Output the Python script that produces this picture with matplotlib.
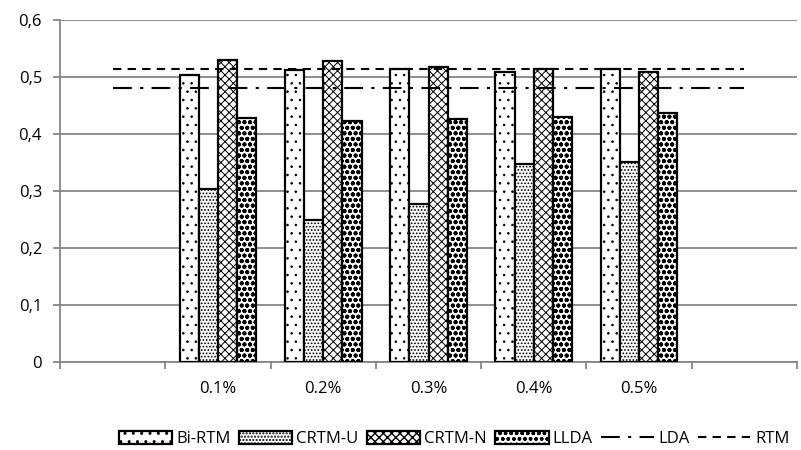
import matplotlib.pyplot as plt
import numpy as np

plt.rcParams['font.family'] = ['Open Sans', 'DejaVu Sans']
plt.rcParams['hatch.color'] = 'black'

# 数据
categories = ['', '0.1%', '0.2%', '0.3%', '0.4%', '0.5%', '']
bi_rtm = [np.nan, 0.504, 0.512, 0.513, 0.508, 0.514, np.nan]
crtm_u = [np.nan, 0.303, 0.249, 0.277, 0.347, 0.351, np.nan]
crtm_n = [np.nan, 0.529, 0.528, 0.518, 0.513, 0.508, np.nan]
llda = [np.nan, 0.427, 0.423, 0.426, 0.430, 0.436, np.nan]
lda = [0.480] * 7
rtm = [0.514] * 7

bar_series = [('Bi-RTM', bi_rtm, '..', 0.6), ('CRTM-U', crtm_u, '.....', 0.8),
              ('CRTM-N', crtm_n, 'xxxx', 0.7), ('LLDA', llda, 'ooo', 1.3)]

fig = plt.figure(figsize=(8.01, 4.5), dpi=100)
ax = fig.add_axes([0.075, 0.196, 0.920, 0.760])

x = np.arange(len(categories))
w = 0.182
handles = []
for i, (name, vals, hatch, hlw) in enumerate(bar_series):
    plt.rcParams['hatch.linewidth'] = hlw
    bars = ax.bar(x + (i - 1.5) * w, vals, w, label=name, facecolor='white',
                  edgecolor='black', linewidth=1.6, hatch=hatch, zorder=3)
    for b in bars:
        if hasattr(b, 'set_hatch_linewidth'):
            b.set_hatch_linewidth(hlw)
    handles.append(bars)
plt.rcParams['hatch.linewidth'] = 1.0

l1, = ax.plot(x, lda, color='black', linestyle=(0, (9, 4, 1.5, 4)), linewidth=1.5,
              label='LDA', zorder=4)
l2, = ax.plot(x, rtm, color='black', linestyle=(0, (4, 3)), linewidth=1.5,
              label='RTM', zorder=4)
handles += [l1, l2]

ax.set_xlim(-0.5, 6.5)
ax.set_ylim(0, 0.6)
ax.set_yticks(np.arange(0, 0.61, 0.1))
ax.set_yticklabels(['0' if v == 0 else f'{v:.1f}'.replace('.', ',')
                    for v in np.arange(0, 0.61, 0.1)], fontsize=12)
ax.set_xticks(x)
ax.set_xticklabels(categories, fontsize=12)
ax.set_xticks(np.arange(-0.5, 7, 1), minor=True)
ax.tick_params(axis='x', which='major', length=0, pad=14)
ax.tick_params(axis='x', which='minor', length=5, color='#868686', width=1.3)
ax.tick_params(axis='y', length=5, color='#868686', width=1.3, pad=8)

ax.grid(axis='y', color='#868686', linewidth=1.3, zorder=0)
ax.set_axisbelow(True)
for s in ['top', 'right']:
    ax.spines[s].set_visible(False)
for s in ['left', 'bottom']:
    ax.spines[s].set_color('#868686')
    ax.spines[s].set_linewidth(1.3)

ax.legend(handles=handles, loc='lower center', bbox_to_anchor=(0.535, -0.27), ncol=6,
          frameon=False, fontsize=12, handlelength=3.2, handleheight=0.8,
          handletextpad=0.25, columnspacing=0.5, borderaxespad=0)

fig.savefig('out.png', dpi=100)
